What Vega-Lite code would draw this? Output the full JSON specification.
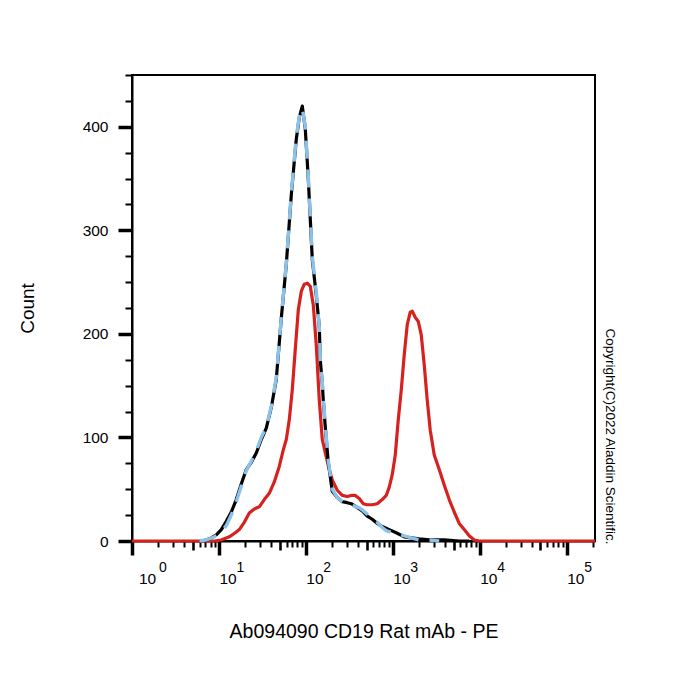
{
  "$schema": "https://vega.github.io/schema/vega-lite/v6.json",
  "width": 463,
  "height": 466,
  "autosize": {"type": "none"},
  "padding": {"left": 132, "top": 75, "right": 105, "bottom": 159},
  "background": "white",
  "config": {
    "view": {"stroke": "black", "strokeWidth": 2},
    "axis": {
      "grid": false,
      "labelFont": "Liberation Sans",
      "titleFont": "Liberation Sans",
      "labelColor": "black",
      "titleColor": "black",
      "tickColor": "black",
      "domainColor": "black",
      "labelFlush": false,
      "labelOverlap": false,
      "labelBound": false,
      "titleFontWeight": "normal"
    }
  },
  "data": {
    "values": [
      {"s": "CD19", "x": 1, "count": 0},
      {"s": "CD19", "x": 8.85, "count": 0},
      {"s": "CD19", "x": 10.65, "count": 1},
      {"s": "CD19", "x": 13.16, "count": 4},
      {"s": "CD19", "x": 15.43, "count": 8},
      {"s": "CD19", "x": 17.15, "count": 11},
      {"s": "CD19", "x": 19.58, "count": 18},
      {"s": "CD19", "x": 22.36, "count": 27},
      {"s": "CD19", "x": 25.52, "count": 31},
      {"s": "CD19", "x": 29.13, "count": 33},
      {"s": "CD19", "x": 33.25, "count": 40},
      {"s": "CD19", "x": 37.96, "count": 46},
      {"s": "CD19", "x": 43.34, "count": 57},
      {"s": "CD19", "x": 49.47, "count": 72},
      {"s": "CD19", "x": 55.01, "count": 88},
      {"s": "CD19", "x": 59.55, "count": 98},
      {"s": "CD19", "x": 64.47, "count": 117},
      {"s": "CD19", "x": 69.8, "count": 146},
      {"s": "CD19", "x": 75.56, "count": 185},
      {"s": "CD19", "x": 81.82, "count": 223},
      {"s": "CD19", "x": 88.59, "count": 241},
      {"s": "CD19", "x": 95.92, "count": 248},
      {"s": "CD19", "x": 103.85, "count": 249},
      {"s": "CD19", "x": 112.45, "count": 246},
      {"s": "CD19", "x": 121.75, "count": 228},
      {"s": "CD19", "x": 131.82, "count": 189},
      {"s": "CD19", "x": 142.72, "count": 136},
      {"s": "CD19", "x": 154.53, "count": 98},
      {"s": "CD19", "x": 171.8, "count": 81},
      {"s": "CD19", "x": 186.0, "count": 69},
      {"s": "CD19", "x": 201.4, "count": 59},
      {"s": "CD19", "x": 229.9, "count": 49},
      {"s": "CD19", "x": 262.4, "count": 44},
      {"s": "CD19", "x": 299.5, "count": 43},
      {"s": "CD19", "x": 333.0, "count": 44},
      {"s": "CD19", "x": 370.1, "count": 44},
      {"s": "CD19", "x": 411.6, "count": 41},
      {"s": "CD19", "x": 457.7, "count": 36},
      {"s": "CD19", "x": 508.7, "count": 35},
      {"s": "CD19", "x": 580.5, "count": 35},
      {"s": "CD19", "x": 662.8, "count": 36},
      {"s": "CD19", "x": 756.7, "count": 40},
      {"s": "CD19", "x": 841.3, "count": 44},
      {"s": "CD19", "x": 910.9, "count": 52},
      {"s": "CD19", "x": 986.0, "count": 64},
      {"s": "CD19", "x": 1068, "count": 83},
      {"s": "CD19", "x": 1156, "count": 117},
      {"s": "CD19", "x": 1252, "count": 146},
      {"s": "CD19", "x": 1355, "count": 180},
      {"s": "CD19", "x": 1467, "count": 209},
      {"s": "CD19", "x": 1588, "count": 221},
      {"s": "CD19", "x": 1675, "count": 222},
      {"s": "CD19", "x": 1814, "count": 216},
      {"s": "CD19", "x": 1964, "count": 212},
      {"s": "CD19", "x": 2126, "count": 199},
      {"s": "CD19", "x": 2301, "count": 170},
      {"s": "CD19", "x": 2491, "count": 136},
      {"s": "CD19", "x": 2697, "count": 107},
      {"s": "CD19", "x": 3000, "count": 83},
      {"s": "CD19", "x": 3423, "count": 69},
      {"s": "CD19", "x": 3908, "count": 54},
      {"s": "CD19", "x": 4460, "count": 40},
      {"s": "CD19", "x": 5092, "count": 28},
      {"s": "CD19", "x": 5813, "count": 17},
      {"s": "CD19", "x": 6636, "count": 11},
      {"s": "CD19", "x": 7575, "count": 5},
      {"s": "CD19", "x": 8648, "count": 1},
      {"s": "CD19", "x": 9872, "count": 0},
      {"s": "CD19", "x": 212000, "count": 0},

      {"s": "Isotype", "x": 5.95, "count": 0},
      {"s": "Isotype", "x": 7.16, "count": 1},
      {"s": "Isotype", "x": 8.17, "count": 3},
      {"s": "Isotype", "x": 9.33, "count": 6},
      {"s": "Isotype", "x": 10.65, "count": 11},
      {"s": "Isotype", "x": 12.15, "count": 19},
      {"s": "Isotype", "x": 13.88, "count": 28},
      {"s": "Isotype", "x": 15.84, "count": 40},
      {"s": "Isotype", "x": 18.08, "count": 55},
      {"s": "Isotype", "x": 20.64, "count": 69},
      {"s": "Isotype", "x": 23.57, "count": 76},
      {"s": "Isotype", "x": 26.91, "count": 85},
      {"s": "Isotype", "x": 30.72, "count": 98},
      {"s": "Isotype", "x": 35.06, "count": 109},
      {"s": "Isotype", "x": 40.03, "count": 129},
      {"s": "Isotype", "x": 45.69, "count": 156},
      {"s": "Isotype", "x": 52.16, "count": 215},
      {"s": "Isotype", "x": 59.55, "count": 267},
      {"s": "Isotype", "x": 67.98, "count": 334},
      {"s": "Isotype", "x": 77.59, "count": 388},
      {"s": "Isotype", "x": 84.02, "count": 409},
      {"s": "Isotype", "x": 90.97, "count": 420},
      {"s": "Isotype", "x": 98.49, "count": 398},
      {"s": "Isotype", "x": 106.64, "count": 350},
      {"s": "Isotype", "x": 118.57, "count": 272},
      {"s": "Isotype", "x": 131.82, "count": 237},
      {"s": "Isotype", "x": 142.72, "count": 207},
      {"s": "Isotype", "x": 146.55, "count": 175},
      {"s": "Isotype", "x": 154.53, "count": 152},
      {"s": "Isotype", "x": 158.67, "count": 136},
      {"s": "Isotype", "x": 167.3, "count": 110},
      {"s": "Isotype", "x": 181.1, "count": 76},
      {"s": "Isotype", "x": 201.4, "count": 48},
      {"s": "Isotype", "x": 229.9, "count": 42},
      {"s": "Isotype", "x": 262.4, "count": 38},
      {"s": "Isotype", "x": 299.5, "count": 37},
      {"s": "Isotype", "x": 333.0, "count": 36},
      {"s": "Isotype", "x": 380.1, "count": 33},
      {"s": "Isotype", "x": 445.7, "count": 29},
      {"s": "Isotype", "x": 508.7, "count": 24},
      {"s": "Isotype", "x": 580.5, "count": 21},
      {"s": "Isotype", "x": 662.8, "count": 17},
      {"s": "Isotype", "x": 756.7, "count": 14},
      {"s": "Isotype", "x": 910.9, "count": 11},
      {"s": "Isotype", "x": 1096, "count": 8},
      {"s": "Isotype", "x": 1355, "count": 4},
      {"s": "Isotype", "x": 1631, "count": 3},
      {"s": "Isotype", "x": 2016, "count": 2},
      {"s": "Isotype", "x": 2627, "count": 1},
      {"s": "Isotype", "x": 3908, "count": 1},
      {"s": "Isotype", "x": 5813, "count": 0},
      {"s": "Isotype", "x": 7575, "count": 0},

      {"s": "Blank", "x": 5.95, "count": 0},
      {"s": "Blank", "x": 7.16, "count": 1},
      {"s": "Blank", "x": 8.85, "count": 4},
      {"s": "Blank", "x": 10.65, "count": 9},
      {"s": "Blank", "x": 12.15, "count": 15},
      {"s": "Blank", "x": 13.88, "count": 25},
      {"s": "Blank", "x": 15.84, "count": 38},
      {"s": "Blank", "x": 18.08, "count": 53},
      {"s": "Blank", "x": 20.64, "count": 68},
      {"s": "Blank", "x": 23.57, "count": 77},
      {"s": "Blank", "x": 26.91, "count": 87},
      {"s": "Blank", "x": 30.72, "count": 100},
      {"s": "Blank", "x": 35.06, "count": 110},
      {"s": "Blank", "x": 40.03, "count": 130},
      {"s": "Blank", "x": 45.69, "count": 158},
      {"s": "Blank", "x": 52.16, "count": 216},
      {"s": "Blank", "x": 59.55, "count": 268},
      {"s": "Blank", "x": 67.98, "count": 336},
      {"s": "Blank", "x": 77.59, "count": 390},
      {"s": "Blank", "x": 84.02, "count": 410},
      {"s": "Blank", "x": 90.97, "count": 418},
      {"s": "Blank", "x": 98.49, "count": 400},
      {"s": "Blank", "x": 106.64, "count": 352},
      {"s": "Blank", "x": 118.57, "count": 275},
      {"s": "Blank", "x": 131.82, "count": 240},
      {"s": "Blank", "x": 142.72, "count": 207},
      {"s": "Blank", "x": 146.55, "count": 177},
      {"s": "Blank", "x": 154.53, "count": 153},
      {"s": "Blank", "x": 158.67, "count": 138},
      {"s": "Blank", "x": 167.3, "count": 112},
      {"s": "Blank", "x": 181.1, "count": 78},
      {"s": "Blank", "x": 201.4, "count": 50},
      {"s": "Blank", "x": 229.9, "count": 42},
      {"s": "Blank", "x": 262.4, "count": 38},
      {"s": "Blank", "x": 299.5, "count": 36},
      {"s": "Blank", "x": 333.0, "count": 35},
      {"s": "Blank", "x": 380.1, "count": 33},
      {"s": "Blank", "x": 411.6, "count": 32},
      {"s": "Blank", "x": 445.7, "count": 30},
      {"s": "Blank", "x": 508.7, "count": 26},
      {"s": "Blank", "x": 580.5, "count": 22},
      {"s": "Blank", "x": 662.8, "count": 18},
      {"s": "Blank", "x": 756.7, "count": 13},
      {"s": "Blank", "x": 841.3, "count": 10},
      {"s": "Blank", "x": 986, "count": 8},
      {"s": "Blank", "x": 1156, "count": 7},
      {"s": "Blank", "x": 1355, "count": 5},
      {"s": "Blank", "x": 1631, "count": 3},
      {"s": "Blank", "x": 2016, "count": 1},
      {"s": "Blank", "x": 2627, "count": 1},
      {"s": "Blank", "x": 3423, "count": 0}
    ]
  },
  "layer": [
    {
      "transform": [{"filter": "datum.s === 'CD19'"}],
      "mark": {"type": "line", "color": "#d6221f", "strokeWidth": 3.2, "strokeJoin": "round"},
      "encoding": {
        "x": {
          "field": "x", "type": "quantitative",
          "scale": {"type": "log", "domain": [1, 212000], "nice": false},
          "axis": {
            "orient": "bottom",
            "values": [1, 10, 100, 1000, 10000, 100000],
            "labelExpr": "'10'",
            "labelAlign": "left",
            "labelBaseline": "alphabetic",
            "labelFontSize": 15.5,
            "labelPadding": 28,
            "labelOffset": {"condition": {"test": "datum.value < 2", "value": 6.5}, "value": 0},
            "tickSize": 14,
            "tickWidth": 3.5,
            "domainWidth": 2,
            "title": "Ab094090 CD19 Rat mAb - PE",
            "titleFontSize": 19.5,
            "titleY": 96,
            "titleBaseline": "alphabetic"
          }
        },
        "y": {
          "field": "count", "type": "quantitative",
          "scale": {"domain": [0, 450], "nice": false},
          "axis": {
            "orient": "left",
            "values": [0, 100, 200, 300, 400],
            "labelFontSize": 15.5,
            "labelPadding": 10,
            "tickSize": 14,
            "tickWidth": 3.5,
            "domainWidth": 2,
            "title": "Count",
            "titleFontSize": 19,
            "titleAngle": 270,
            "titleX": -105,
            "titleY": 233,
            "titleAlign": "center",
            "titleBaseline": "middle"
          }
        }
      }
    },
    {
      "transform": [{"filter": "datum.s === 'Isotype'"}],
      "mark": {"type": "line", "color": "#000000", "strokeWidth": 3.2, "strokeJoin": "round"},
      "encoding": {
        "x": {"field": "x", "type": "quantitative", "scale": {"type": "log", "domain": [1, 212000], "nice": false}, "axis": null},
        "y": {"field": "count", "type": "quantitative", "scale": {"domain": [0, 450], "nice": false}, "axis": null}
      }
    },
    {
      "transform": [{"filter": "datum.s === 'Blank'"}],
      "mark": {"type": "line", "color": "#8cc2ea", "strokeWidth": 3.4, "strokeDash": [18, 11]},
      "encoding": {
        "x": {"field": "x", "type": "quantitative", "scale": {"type": "log", "domain": [1, 212000], "nice": false}, "axis": null},
        "y": {"field": "count", "type": "quantitative", "scale": {"domain": [0, 450], "nice": false}, "axis": null}
      }
    },
    {
      "mark": {"type": "point", "opacity": 0},
      "encoding": {
        "x": {
          "field": "x", "type": "quantitative",
          "scale": {"type": "log", "domain": [1, 212000], "nice": false},
          "axis": {
            "orient": "bottom",
            "values": [2, 3, 4, 5, 6, 7, 8, 9, 20, 30, 40, 50, 60, 70, 80, 90, 200, 300, 400, 500, 600, 700, 800, 900, 2000, 3000, 4000, 5000, 6000, 7000, 8000, 9000, 20000, 30000, 40000, 50000, 60000, 70000, 80000, 90000, 200000],
            "labels": false,
            "domain": false,
            "title": null,
            "tickSize": {"condition": {"test": "indexof([5, 50, 500, 5000, 50000], datum.value) >= 0", "value": 9}, "value": 6},
            "tickWidth": {"condition": {"test": "indexof([5, 50, 500, 5000, 50000], datum.value) >= 0", "value": 2.6}, "value": 2}
          }
        },
        "y": {
          "field": "count", "type": "quantitative",
          "scale": {"domain": [0, 450], "nice": false},
          "axis": {
            "orient": "left",
            "values": [25, 50, 75, 125, 150, 175, 225, 250, 275, 325, 350, 375, 425, 450],
            "labels": false,
            "domain": false,
            "title": null,
            "tickSize": 7,
            "tickWidth": 2
          }
        }
      }
    },
    {
      "mark": {"type": "point", "opacity": 0},
      "encoding": {
        "x": {
          "field": "x", "type": "quantitative",
          "scale": {"type": "log", "domain": [1, 212000], "nice": false},
          "axis": {
            "orient": "bottom",
            "values": [1, 10, 100, 1000, 10000, 100000],
            "labelExpr": "'' + round(log(datum.value) / LN10)",
            "labelAlign": "left",
            "labelBaseline": "alphabetic",
            "labelFontSize": 14,
            "labelPadding": 16,
            "labelOffset": {"condition": {"test": "datum.value < 2", "value": 26.5}, "value": 17},
            "tickColor": "transparent",
            "tickSize": 14,
            "domain": false,
            "title": null
          }
        },
        "y": {
          "field": "count", "type": "quantitative",
          "scale": {"domain": [0, 450], "nice": false},
          "axis": {
            "orient": "right",
            "labels": false,
            "ticks": false,
            "domain": false,
            "title": "Copyright(C)2022 Aladdin Scientific.",
            "titleFontSize": 13.5,
            "titleAngle": 90,
            "titleX": 14,
            "titleY": 361,
            "titleAlign": "center",
            "titleBaseline": "middle"
          }
        }
      }
    }
  ],
  "resolve": {"axis": {"x": "independent", "y": "independent"}}
}
